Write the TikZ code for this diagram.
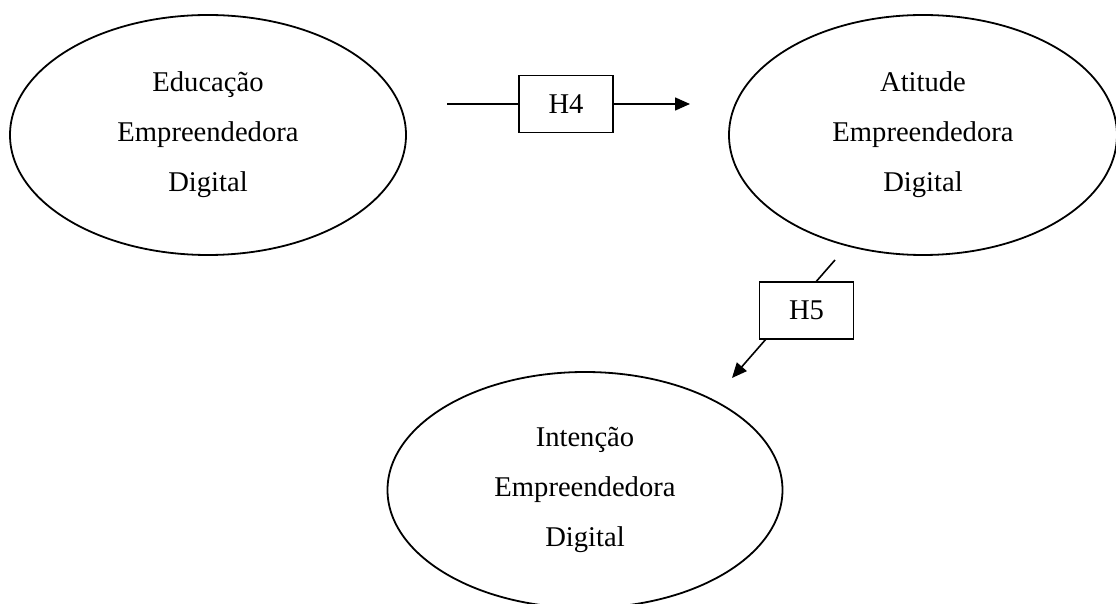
\documentclass[tikz,border=0pt]{standalone}
\usepackage{fontspec}
\setmainfont{Liberation Serif}
\usetikzlibrary{shapes.geometric,arrows.meta}

\begin{document}
\begin{tikzpicture}[x=0.5pt,y=-0.5pt]

% ellipses for the constructs, boxes for the hypotheses
\tikzset{
  construct/.style={draw, ellipse, line width=0.9pt, minimum width=#1,
    minimum height=120pt, inner sep=0pt, align=center,
    font=\fontsize{14.3}{25}\selectfont},
  construct/.default=198pt,
  hyp/.style={draw, rectangle, line width=0.8pt, fill=white,
    minimum width=47pt, minimum height=28.5pt, inner sep=0pt,
    font=\fontsize{14.3}{17}\selectfont},
  link/.style={line width=0.8pt, -{Triangle[length=7.5pt,width=6.5pt]}},
}

\useasboundingbox (0,0) rectangle (1116,604);
\clip (0,0) rectangle (1116,604);

% ---------------- constructs ----------------
\node[construct] (edu) at (208,135) {Educação\\Empreendedora\\Digital};
\node[construct=194pt] (ati) at (923,135) {Atitude\\Empreendedora\\Digital};
\node[construct=197.5pt, minimum height=118pt] (inte) at (585,490)
  {Intenção\\Empreendedora\\Digital};

% ---------------- H4 ----------------
\coordinate (h4in) at (447,104);
\coordinate (h4out) at (690,104);
\node[hyp] (h4) at (566,104) {H4};
\draw[link] (h4in) -- (h4) -- (h4out);

% ---------------- H5: line runs behind the box ----------------
\coordinate (h5in) at (835,260);
\coordinate (h5out) at (732,378);
\draw[link] (h5in) -- (h5out);
\node[hyp] (h5) at (806.5,310.5) {H5};

\end{tikzpicture}
\end{document}
